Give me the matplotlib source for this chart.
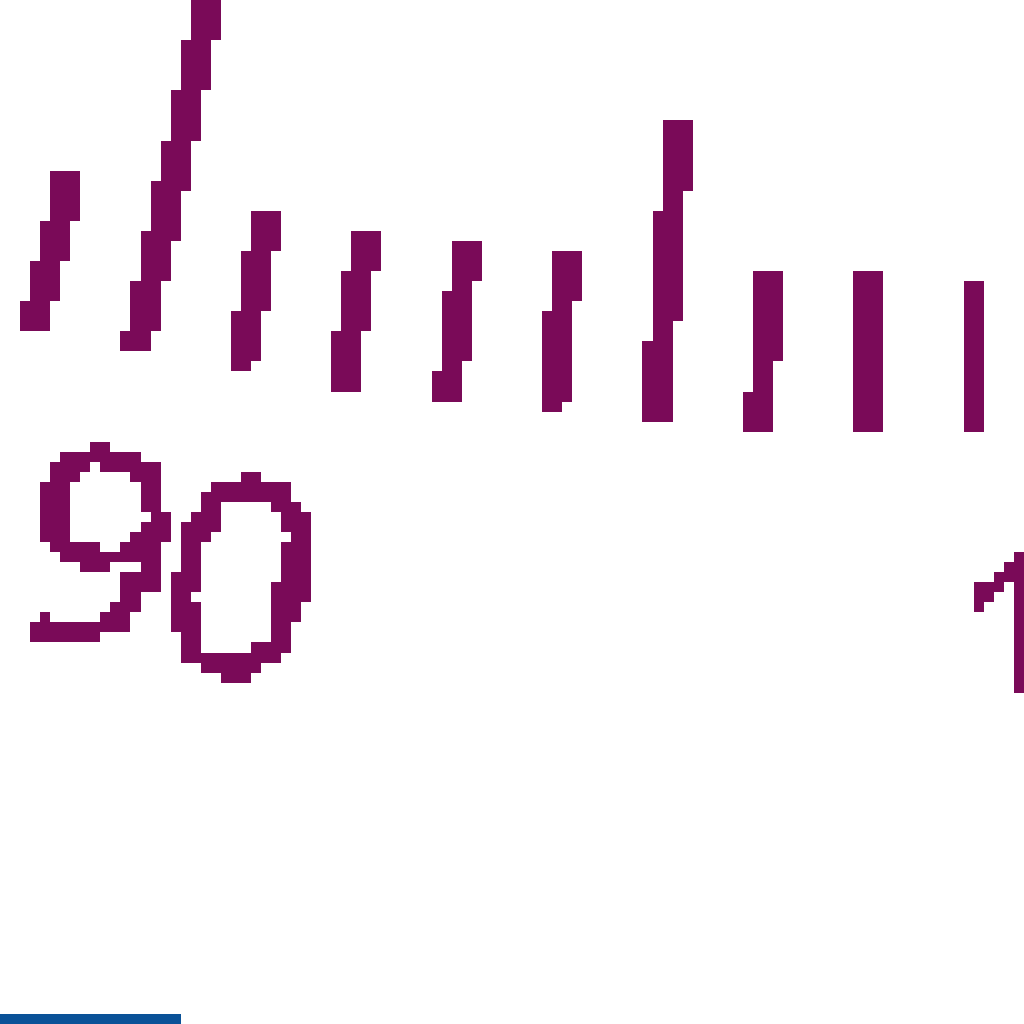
import numpy as np
import matplotlib
matplotlib.use("Agg")
import matplotlib.pyplot as plt

# gauge scale
v_bottom = 98.0          # value sitting straight at the bottom of the dial
deg_per_unit = 1.45
label_spread = 0.920     # labels sit on a slightly tighter angular spread
label_shift = 0.09       # degrees
minor_vals = np.arange(80, 111, 1)
mid_vals = np.arange(85, 111, 10)
major_vals = np.arange(80, 111, 10)
label_vals = [80, 90, 100, 110]
band_frac = [0.0, 0.18]   # blue bar along the bottom edge

purple = "#7a0a58"
blue = "#0a5298"

plt.rcParams["text.antialiased"] = False

# small canvas, upscaled later to get the chunky pixel look
LO = 102
small = plt.figure(figsize=(LO / 100, LO / 100), dpi=100)
RMAX = 600.0
r_out = 412.0
cx, cy = 96.6, LO + (r_out - 42.8)   # dial centre in low-res px (y from bottom)
ax = small.add_axes([cx / LO - RMAX / LO, cy / LO - RMAX / LO, 2 * RMAX / LO, 2 * RMAX / LO],
                    projection="polar")
ax.set_theta_zero_location("S")
ax.set_theta_direction(1)
ax.set_ylim(0, RMAX)
ax.set_axis_off()

def th(v):
	return np.deg2rad((v - v_bottom) * deg_per_unit)

lw = 1.8 * 72 / 100
for v in minor_vals:
	if v in major_vals:
		ln = 45
	elif v in mid_vals:
		ln = 29.5
	else:
		ln = 15
	ax.plot([th(v), th(v)], [r_out - ln, r_out], color=purple, lw=lw,
			solid_capstyle="butt", antialiased=False)

for v in label_vals:
	ax.text(th(v) * label_spread + np.deg2rad(label_shift), r_out + 24.3, str(v),
			rotation=(v - v_bottom) * deg_per_unit,
			rotation_mode="anchor", ha="center", va="center", color=purple,
			fontsize=19.5, family="Open Sans")

bx = small.add_axes([0, 0, 1, 1])
bx.set_xlim(0, 1)
bx.set_ylim(0, LO)
bx.set_axis_off()
bx.barh(0, band_frac[1] - band_frac[0], left=band_frac[0], height=2, align="center",
		color=blue, antialiased=False)

small.canvas.draw()
img = np.asarray(small.canvas.buffer_rgba())[..., :3].astype(float)

# hard two-colour pixels, like the reference
inked = img.mean(axis=2) < 200
is_purple = img[..., 0] > img[..., 2]
out = np.full(img.shape, 255, dtype=np.uint8)
out[inked & is_purple] = (122, 10, 88)
out[inked & ~is_purple] = (10, 82, 152)

fig = plt.figure(figsize=(10.24, 10.24), dpi=100)
fax = fig.add_axes([0, 0, 1, 1])
fax.imshow(out, interpolation="nearest", aspect="auto")
fax.set_axis_off()
fig.savefig("out.png", dpi=100)
